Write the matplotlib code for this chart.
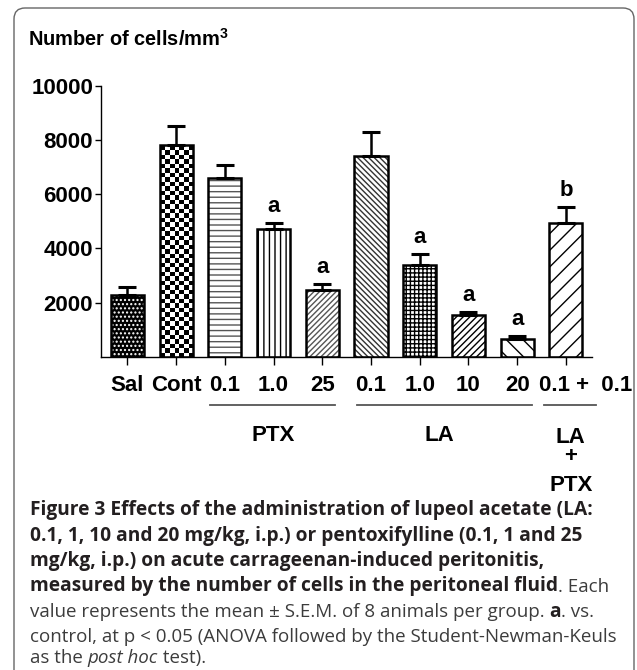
import numpy as np
import matplotlib
matplotlib.use('Agg')
import matplotlib.pyplot as plt
from matplotlib.patches import FancyBboxPatch
from matplotlib.transforms import IdentityTransform, offset_copy, blended_transform_factory

# values (cells/mm3)
tick_labels = ['Sal', 'Cont', '0.1', '1.0', '25', '0.1', '1.0', '10', '20', '0.1 +  0.1']
means = [2280, 7810, 6600, 4700, 2470, 7410, 3400, 1550, 660, 4950]
sems = [310, 700, 470, 220, 220, 860, 390, 120, 110, 570]
marks = ['', '', '', 'a', 'a', '', 'a', 'a', 'a', 'b']
yticks = [2000, 4000, 6000, 8000, 10000]
group_names = ['PTX', 'LA']

# pattern per bar: (hatch, hatch colour, face colour)
patterns = [
    ('....', 'white', 'black'),
    (None, 'black', 'white'),      # checkerboard, done with an image
    ('---', '#555555', 'white'),
    ('|||', 'black', 'white'),
    ('//////', '#555555', 'white'),
    ('\\\\\\\\\\\\', '#333333', 'white'),
    ('++++', 'black', 'white'),
    ('/////', 'black', 'white'),
    ('\\\\', 'black', 'white'),
    ('//', 'black', 'white'),
]

W, H = 637, 670
plt.rcParams['font.family'] = ['Liberation Sans', 'DejaVu Sans']
plt.rcParams['mathtext.fontset'] = 'custom'
plt.rcParams['mathtext.bf'] = 'Liberation Sans:bold'
plt.rcParams['mathtext.rm'] = 'Liberation Sans:bold'
plt.rcParams['hatch.linewidth'] = 1.0

fig = plt.figure(figsize=(W / 100, H / 100), dpi=100)


def fx(x):
    return x / W


def fy(y):
    return 1 - y / H


# frame round the figure
frame = FancyBboxPatch((14, -30), 620, H - 8 + 30, boxstyle='round,pad=0,rounding_size=11',
                       transform=IdentityTransform(), fill=False, edgecolor='#666666', lw=1.0)
fig.patches.append(frame)

ax = fig.add_axes([fx(100.7), fy(357), fx(591.7) - fx(100.7), fy(85.5) - fy(357)])
x = np.arange(len(means))
w = 0.68

for i in range(len(means)):
    h, hc, fc = patterns[i]
    if h is None:
        b = ax.bar(x[i], means[i], w, color='white', lw=0, zorder=1)[0]
        # checkerboard texture
        cell = 165
        nr = int(np.ceil(means[i] / cell))
        nc = 7
        chk = (np.add.outer(np.arange(nr), np.arange(nc)) % 2).astype(float)
        im = ax.imshow(chk, cmap='gray', extent=[x[i] - w / 2, x[i] + w / 2, 0, nr * cell],
                       origin='lower', aspect='auto', interpolation='nearest', zorder=1.5)
        im.set_clip_path(b)
    else:
        ax.bar(x[i], means[i], w, color=fc, edgecolor=hc, hatch=h, lw=0, zorder=1)
ax.bar(x, means, w, fill=False, edgecolor='black', lw=1.8, zorder=2)

ax.errorbar(x, means, yerr=[np.zeros(len(sems)), sems], fmt='none', ecolor='black',
            elinewidth=1.8, capsize=6.5, capthick=2.2, zorder=3)
for i, m in enumerate(marks):
    if m:
        ax.annotate(m, (x[i], means[i] + sems[i]), xytext=(0, 8), textcoords='offset points',
                    ha='center', va='baseline', fontsize=16, fontweight='bold')

ax.set_xlim(-0.55, 9.53)
ax.set_ylim(0, 10000)
ax.set_yticks(yticks)
ax.set_yticklabels([str(t) for t in yticks])
ax.set_xticks(x)
ax.set_xticklabels(tick_labels)
ax.tick_params(axis='y', length=4, width=1, pad=1.5, labelsize=16)
ax.tick_params(axis='x', length=6, width=1, pad=7, labelsize=16)
for lab in ax.get_xticklabels() + ax.get_yticklabels():
    lab.set_fontweight('bold')
last = ax.get_xticklabels()[-1]
last.set_transform(offset_copy(last.get_transform(), fig=fig, x=20, y=0, units='dots'))
for s in ['top', 'right']:
    ax.spines[s].set_visible(False)
for s in ['left', 'bottom']:
    ax.spines[s].set_linewidth(1.0)

# group brackets under the axis
tr = blended_transform_factory(ax.transData, ax.transAxes)
spans = [(1.70, 4.25), (4.72, 8.30), (8.55, 9.62)]
for a, b in spans:
    ax.plot([a, b], [-0.177, -0.177], color='#555555', lw=1.3, transform=tr, clip_on=False)
ax.text(3.0, -0.289, group_names[0], transform=tr, ha='center', va='center', fontsize=16, fontweight='bold')
ax.text(6.4, -0.289, group_names[1], transform=tr, ha='center', va='center', fontsize=16, fontweight='bold')
for txt, yy in [('LA', -0.296), ('+', -0.368), ('PTX', -0.475)]:
    ax.text(9.1, yy, txt, transform=tr, ha='center', va='center', fontsize=16, fontweight='bold')

fig.text(fx(27.6), fy(38.6), r'Number of cells/mm$^{\mathbf{3}}$', ha='left', va='center',
         fontsize=14.4, fontweight='bold')

# caption, drawn piece by piece
cap_lines = [
    [('Figure 3 Effects of the administration of lupeol acetate (LA:', 'bold', 'normal')],
    [('0.1, 1, 10 and 20 mg/kg, i.p.) or pentoxifylline (0.1, 1 and 25', 'bold', 'normal')],
    [('mg/kg, i.p.) on acute carrageenan-induced peritonitis,', 'bold', 'normal')],
    [('measured by the number of cells in the peritoneal fluid', 'bold', 'normal'),
     ('. Each', 'normal', 'normal')],
    [('value represents the mean \u00b1 S.E.M. of 8 animals per group. ', 'normal', 'normal'),
     ('a', 'bold', 'normal'), ('. vs.', 'normal', 'normal')],
    [('control, at p < 0.05 (ANOVA followed by the Student-Newman-Keuls', 'normal', 'normal')],
    [('as the ', 'normal', 'normal'), ('post hoc', 'normal', 'italic'), (' test).', 'normal', 'normal')],
]
cap_y = [510, 535.5, 561, 586.5, 612, 637, 658]
fig.canvas.draw()
r = fig.canvas.get_renderer()
for segs, yy in zip(cap_lines, cap_y):
    xx = 30
    for txt, wt, st in segs:
        col = '#231f20' if wt == 'bold' else '#3c3c3c'
        size = 13.8 if wt == 'bold' else 13.5
        t = fig.text(fx(xx), fy(yy), txt, ha='left', va='center', fontsize=size,
                     fontweight=wt, fontstyle=st, color=col, family=['Open Sans', 'DejaVu Sans'])
        xx += t.get_window_extent(renderer=r).width

fig.savefig('out.png', dpi=100)
